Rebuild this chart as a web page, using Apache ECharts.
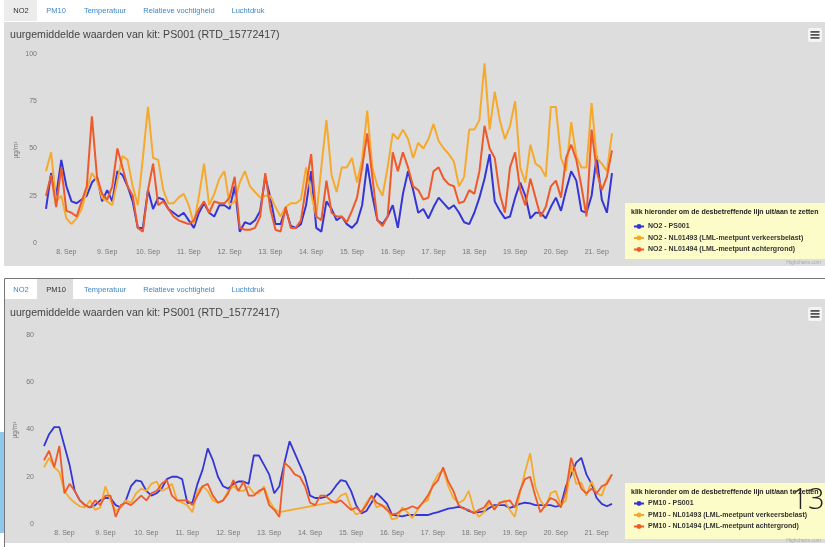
<!DOCTYPE html>
<html><head><meta charset="utf-8">
<script src="https://cdn.jsdelivr.net/npm/echarts@6/dist/echarts.min.js"></script>
<style>html,body{margin:0;padding:0;background:#fff;}#c{width:825px;height:547px;}</style>
</head><body><div id="c"></div><script>
// time: hours since 7 Sep 00:00, one value every 3 hours from 7 Sep 12:00
const startHour = 12, stepHours = 3;
const dayTicks = [24,48,72,96,120,144,168,192,216,240,264,288,312,336];
const dayLabels = ['8. Sep','9. Sep','10. Sep','11. Sep','12. Sep','13. Sep','14. Sep','15. Sep','16. Sep','17. Sep','18. Sep','19. Sep','20. Sep','21. Sep'];
const tabLabels = ['NO2','PM10','Temperatuur','Relatieve vochtigheid','Luchtdruk'];
const chartTitle = 'uurgemiddelde waarden van kit: PS001 (RTD_15772417)';
const legendTitle = 'klik hieronder om de desbetreffende lijn uit/aan te zetten';
const unitLabel = 'µg/m³';
const no2Names = ['NO2 - PS001','NO2 - NL01493 (LML-meetpunt verkeersbelast)','NO2 - NL01494 (LML-meetpunt achtergrond)'];
const pm10Names = ['PM10 - PS001','PM10 - NL01493 (LML-meetpunt verkeersbelast)','PM10 - NL01494 (LML-meetpunt achtergrond)'];

const no2PS001 = [18,37,25,44, 30,22,21,23,25,32,35,22, 28,22,38,36,30,22,8,8, 28,18,24,23,18,16,14,16,
  12,8,16,21,16,14,20,20, 18,30,6,11,10,12,17,35, 24,10,10,18,9,8,10,20, 38,8,6,22,18,12,14,10,
  8,11,20,42,25,12,10,14, 20,8,26,38,28,16,18,13, 19,24,21,18,20,16,11,10, 16,24,34,47,22,17,13,14,
  24,32,25,13,16,16,13,19, 24,17,28,38,33,17,16,25, 46,23,16,37];
const no2NL01493 = [38,48,22,25, 13,10,13,18,28,37,33,24, 22,20,33,46,44,30,20,45, 72,45,44,28,21,21,24,26,
  20,10,25,42,20,26,34,38, 20,22,32,38,30,27,24,25, 25,19,14,19,21,21,23,40, 26,14,40,65,36,27,40,40,
  45,32,44,70,40,30,25,40, 58,55,60,55,45,53,50,55, 63,54,50,47,43,30,35,60, 60,65,95,60,80,65,55,62,
  75,40,32,52,42,40,35,72, 72,45,38,64,46,40,40,74, 45,42,38,58];
const no2NL01494 = [25,36,19,40, 17,16,14,22,30,67,35,26, 23,30,50,40,30,25,8,6, 28,42,20,22,18,14,12,11,
  10,12,18,22,16,22,21,21, 24,35,8,7,7,8,14,37, 18,7,6,19,8,8,12,30, 47,14,12,33,16,14,14,11,
  17,24,40,58,35,12,9,14, 48,38,48,40,30,28,23,24, 38,40,34,31,30,21,22,28, 26,38,62,50,45,26,16,40,
  48,28,20,34,24,14,19,30, 33,24,45,52,44,30,14,60, 38,28,35,49];

const pm10PS001 = [33,38,41,41, 33,25,14,10,8,7,8,10, 11,11,8,7,10,16,18.5,18, 14,12,13,15,19,20,20,19,
  9,9,17,23,32,27,20,16, 15,17,18,18,17,29,29,25, 21,13,16,26,35,30,25,20, 12,11,11,11.5,13,16,18.6,18,
  14,8,4.5,5.5,9,13,11,8.7, 4,3.5,3.2,3.8,3.8,3.8,3.8,3.8, 4.5,5,5.8,6.5,6.8,7.3,6.8,5.5, 4.8,5,5.3,6.8,8,8,8,6.8,
  7.5,8.5,9,8.7,8,8,8,8, 7.3,8,16,20.7,26,28,21,17, 11,8.5,7.5,8.5];
const pm10NL01493 = [24,28,24,22, 14,11,9,7.5,7,10,6,7, 16,10,5.5,7,10,9,13,15, 14,17,18,14,15,17,10,9,
  8,5,14,16,14,10,9,10, 14,16,14,14,16,13,13,16, 10,6.5,5,null,null,null,null,null, null,null,null,null,null,9.5,12,13,
  7,4,5,9,12,7,8,7, 2,2.5,7,5,2.5,6,9,10, 17,21,23,16,11,9,10,14, 6,3,5,9,7,8.5,10,6,
  3,13,22,30,16,10,7,13, 14,8,10,25,17,17.5,12,18, 13,12,18,21];
const pm10NL01494 = [27,31,24,33, 13,17,14,10,8,7,10,8, 12,12,3,8,9,8,10,12, 10,13,14,17,18.6,12,10,10,
  10,8,12,16,17,12,9,10, 13,18.6,14,18,12,12,14,15, 8,6,3,26,24,21,20,16, 9,8,12,12,10,9,10,8,
  6,7,5,8,12,9,8,6, 4,4.5,6,6.5,7.5,6.5,9,12, 16,18.6,24,18,14,8,6.5,6, 4.5,6,7,10,6,9,9.5,10,
  7,14,19,20,12,5,8,11, 10,7,14,28,21,15,13,15, 13,16,17,21];

const colBlue = '#3535d6', colYellow = '#f5aa2e', colRed = '#ee5a2a';
const toXY = arr => arr.map((v, i) => [startHour + stepHours * i, v]);

const chart = echarts.init(document.getElementById('c'), null, {renderer: 'canvas'});
const FONT = 'Liberation Sans';

function xAxisFor(gi) {
  return {
    type: 'value', gridIndex: gi, min: 12, max: 345,
    axisLine: {show: false}, splitLine: {show: false},
    axisTick: {show: false, customValues: dayTicks},
    axisLabel: {customValues: dayTicks, fontSize: 7, color: '#777', fontFamily: FONT, margin: 6,
      formatter: v => dayLabels[dayTicks.indexOf(v)] || ''}
  };
}
function yAxisFor(gi, max, interval, margin) {
  return {
    type: 'value', gridIndex: gi, min: 0, max: max, interval: interval,
    axisLine: {show: false}, axisTick: {show: false},
    splitLine: {show: false},
    axisLabel: {fontSize: 7, color: '#777', fontFamily: FONT, margin: margin}
  };
}
function line(name, data, color, xi, yi, width) {
  return {name, type: 'line', xAxisIndex: xi, yAxisIndex: yi, data: toXY(data),
    showSymbol: false, symbol: 'circle', symbolSize: 5, connectNulls: true, smooth: false,
    lineStyle: {color, width}, itemStyle: {color}, emphasis: {disabled: true}, animation: false};
}

const graphics = [];
function tabs(y0, sel) {
  const xs = [21, 56, 105, 179, 248];
  const selRect = sel === 0 ? [4, 37] : [37, 73];
  graphics.push({type: 'rect', shape: {x: selRect[0], y: y0, width: selRect[1] - selRect[0], height: 21},
    style: {fill: sel === 0 ? '#ececec' : '#dddddd'}, z: 1});
  tabLabels.forEach((t, i) => graphics.push({type: 'text', x: xs[i], y: y0 + 10.5,
    style: {text: t, fontSize: 7.5, fontFamily: FONT, fill: i === sel ? '#333' : '#3f86c8', align: 'center', verticalAlign: 'middle'}, z: 5}));
}
graphics.push({type: 'rect', shape: {x: 4, y: 22, width: 821, height: 244}, style: {fill: '#dddddd'}, z: -10});
graphics.push({type: 'rect', shape: {x: 5, y: 299, width: 820, height: 244}, style: {fill: '#dddddd'}, z: -10});
graphics.push({type: 'rect', shape: {x: 4.5, y: 278.5, width: 822, height: 270}, style: {fill: 'none', stroke: '#777', lineWidth: 1}, z: 20});
tabs(0, 0);
tabs(279, 1);
[35, 313].forEach(y => graphics.push({type: 'text', x: 10, y: y, style: {text: chartTitle, fontSize: 10.6, fontFamily: FONT, fill: '#444', verticalAlign: 'middle'}, z: 5}));
// rotated unit labels
[[16, 150], [15, 430]].forEach(([x, y]) => graphics.push({type: 'text', x: x, y: y, rotation: Math.PI / 2,
  style: {text: unitLabel, fontSize: 6.5, fontFamily: FONT, fill: '#777', align: 'center', verticalAlign: 'middle'}, z: 5}));
[35, 314].forEach(y => {
  graphics.push({type: 'rect', shape: {x: 808, y: y - 7, width: 14, height: 14, r: 2}, style: {fill: '#f4f4f4'}, z: 5});
  [-3, 0, 3].forEach(d => graphics.push({type: 'rect', shape: {x: 810.5, y: y + d - 1, width: 9, height: 1.8}, style: {fill: '#555'}, z: 6}));
});
[[203, 56], [483, 56]].forEach(([y, h]) => {
  graphics.push({type: 'rect', shape: {x: 625, y: y, width: 200, height: h}, style: {fill: '#fcfcc8'}, z: 3});
  graphics.push({type: 'text', x: 631, y: y + 9, style: {text: legendTitle, fontSize: 7, fontWeight: 'bold', fontFamily: FONT, fill: '#222', verticalAlign: 'middle'}, z: 5});
});
[263, 541].forEach(y => graphics.push({type: 'text', x: 821, y: y, style: {text: 'Highcharts.com', fontSize: 5, fontFamily: FONT, fill: '#aaa', align: 'right', verticalAlign: 'middle'}, z: 5}));
graphics.push({type: 'rect', shape: {x: 0, y: 432, width: 4, height: 101}, style: {fill: '#8ec8ea'}, z: 2});
graphics.push({type: 'text', x: 808, y: 501, style: {text: '13', fontSize: 29, fontWeight: 300, fontFamily: 'Open Sans', fill: '#222', align: 'center', verticalAlign: 'middle'}, z: 30});

const legendBase = {orient: 'vertical', itemGap: 4.5, itemWidth: 10, itemHeight: 6,
  textStyle: {fontSize: 7, fontWeight: 'bold', color: '#333', fontFamily: FONT, padding: [0, 0, 0, -1]}, selectedMode: false, z: 10};
const option = {
  backgroundColor: '#ffffff',
  animation: false,
  grid: [
    {left: 46, top: 54, width: 566, height: 189},
    {left: 44, top: 335, width: 568, height: 189}
  ],
  xAxis: [xAxisFor(0), xAxisFor(1)],
  yAxis: [yAxisFor(0, 100, 25, 9), yAxisFor(1, 80, 20, 10)],
  legend: [
    Object.assign({data: no2Names, left: 628, top: 218}, legendBase),
    Object.assign({data: pm10Names, left: 628, top: 495}, legendBase)
  ],
  series: [
    line(no2Names[0], no2PS001, colBlue, 0, 0, 2),
    line(no2Names[1], no2NL01493, colYellow, 0, 0, 2),
    line(no2Names[2], no2NL01494, colRed, 0, 0, 2),
    line(pm10Names[0], pm10PS001, colBlue, 1, 1, 1.8),
    line(pm10Names[1], pm10NL01493, colYellow, 1, 1, 1.8),
    line(pm10Names[2], pm10NL01494, colRed, 1, 1, 1.8)
  ],
  graphic: {elements: graphics}
};
chart.setOption(option);
</script></body></html>
